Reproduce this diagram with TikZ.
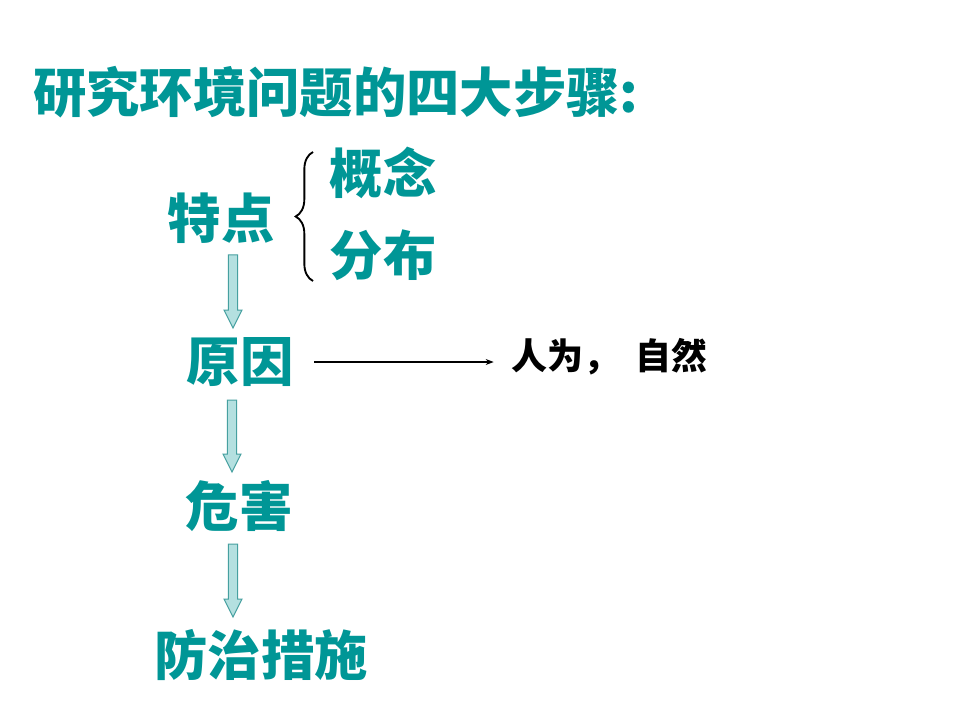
\documentclass[tikz,border=0pt]{standalone}
\usepackage{fontspec}
\newfontfamily\cjk{Noto Sans CJK SC}
\usetikzlibrary{calc,decorations.pathreplacing,arrows.meta}
\definecolor{tealtext}{RGB}{0,150,150}
\definecolor{arrfill}{RGB}{180,224,224}
\definecolor{arrline}{RGB}{70,160,160}
\newcommand\blockarrow[2]{%
  \draw[blockarr] let \p1=(#1), \p2=(#2) in
    (\x1-3.4pt,\y1) -- (\x1+3.4pt,\y1) -- (\x1+3.4pt,\y2+13.5pt) --
    (\x1+6.75pt,\y2+13.5pt) -- (\x1,\y2) -- (\x1-6.75pt,\y2+13.5pt) --
    (\x1-3.4pt,\y2+13.5pt) -- cycle;}
\tikzset{
  lab/.style={font=\cjk\bfseries\fontsize{40pt}{48pt}\selectfont, text=tealtext, inner sep=0pt},
  smalltxt/.style={font=\cjk\bfseries\fontsize{27pt}{32pt}\selectfont, text=black, inner sep=0pt},
  blockarr/.style={draw=arrline, fill=arrfill, line width=0.75pt, line join=miter},
  bracestyle/.style={draw=black, line width=1.4pt, decorate, decoration={brace, amplitude=13pt}},
  thinarrow/.style={draw=black, line width=0.8pt, -{Stealth[length=6pt,width=4.5pt]}}
}
\begin{document}
\begin{tikzpicture}[x=0.75pt,y=-0.75pt]
\useasboundingbox[fill=white] (0,0) rectangle (960,720);
\node[lab, anchor=west] (title) at (33,92) {研究环境问题的四大步骤:};
\node[lab] (tedian) at (221,218) {特点};
\node[lab] (gainian) at (383,173) {概念};
\node[lab] (fenbu) at (383,255) {分布};
\node[lab] (yuanyin) at (240,362) {原因};
\node[lab] (weihai) at (239,506) {危害};
\node[lab] (fangzhi) at (261,655) {防治措施};
\node[smalltxt, anchor=west] (renwei) at (511,357) {人为，\hspace{12pt}自然};
% brace
\coordinate (brb) at (313,281);
\coordinate (brt) at (313,152);
\draw[bracestyle] (brb) -- (brt);
% thin arrow
\draw[thinarrow, shorten <=15.5pt, shorten >=13pt] (yuanyin.east) -- (yuanyin.east -| renwei.west);
% block arrows
\coordinate (a1s) at (233,255); \coordinate (a1e) at (233,328);
\coordinate (a2s) at (232,400); \coordinate (a2e) at (232,472);
\coordinate (a3s) at (233,544); \coordinate (a3e) at (233,617);
\blockarrow{a1s}{a1e}
\blockarrow{a2s}{a2e}
\blockarrow{a3s}{a3e}
\end{tikzpicture}
\end{document}
